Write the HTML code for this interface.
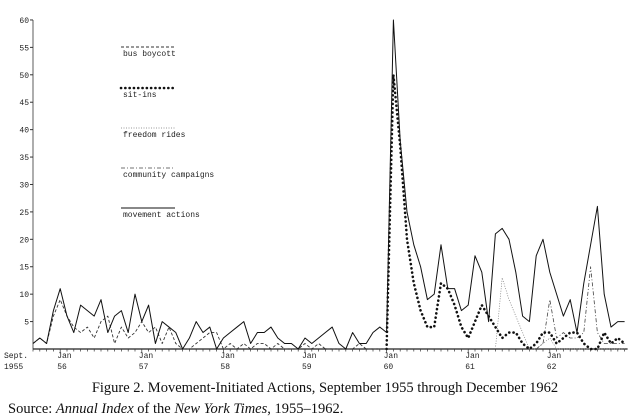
<!DOCTYPE html>
<html><head><meta charset="utf-8"><style>
html,body{margin:0;padding:0;background:#fff;width:640px;height:419px;overflow:hidden}
svg{display:block}
.ax{font-family:"Liberation Mono",monospace;font-size:8px;fill:#222}
.cap{font-family:"Liberation Serif",serif;font-size:14.5px;fill:#111}
</style></head><body>
<svg id="chart" width="640" height="419">
<g id="axes"></g>
<g id="series"></g>
<g id="legend"></g>
<text class="cap" x="325" y="392" text-anchor="middle">Figure 2. Movement-Initiated Actions, September 1955 through December 1962</text>
<text class="cap" x="8" y="413">Source: <tspan font-style="italic">Annual Index</tspan> of the <tspan font-style="italic">New York Times</tspan>, 1955–1962.</text>
</svg>
<script>
// Months Sept 1955 .. Dec 1962 (88 months); null = series not active
const yTicks = [5,10,15,20,25,30,35,40,45,50,55,60];
const xTickLabels = [["Sept.","1955",0],["Jan","56",4],["Jan","57",16],["Jan","58",28],["Jan","59",40],["Jan","60",52],["Jan","61",64],["Jan","62",76]];
const movementActions = [1,2,1,7,11,6,3,8,7,6,9,3,6,7,3,10,5,8,1,5,4,3,0,2,5,3,4,0,2,3,4,5,1,3,3,4,2,1,1,0,2,1,2,3,4,1,0,3,1,1,3,4,3,60,38,25,19,15,9,10,19,11,11,7,8,17,14,5,21,22,20,14,6,5,17,20,14,10,6,9,3,12,19,26,10,4,5,5];
const busBoycott = [1,2,1,6,9,6,4,3,4,2,5,6,1,4,2,3,5,3,4,1,4,1,0,0,1,2,3,3,0,1,0,1,0,1,1,0,1,0,0,0,1,0,1,0,0,0,0,0,1,0,0,0,0,null,null,null,null,null,null,null,null,null,null,null,null,null,null,null,null,null,null,null,null,null,null,null,null,null,null,null,null,null,null,null,null,null,null,null];
const sitIns = [null,null,null,null,null,null,null,null,null,null,null,null,null,null,null,null,null,null,null,null,null,null,null,null,null,null,null,null,null,null,null,null,null,null,null,null,null,null,null,null,null,null,null,null,null,null,null,null,null,null,null,null,0,50,37,20,12,7,4,4,12,11,8,4,2,5,8,6,4,2,3,3,1,0,1,3,3,1,2,3,3,1,0,0,3,1,2,1];
const freedomRides = [null,null,null,null,null,null,null,null,null,null,null,null,null,null,null,null,null,null,null,null,null,null,null,null,null,null,null,null,null,null,null,null,null,null,null,null,null,null,null,null,null,null,null,null,null,null,null,null,null,null,null,null,null,null,null,null,null,null,null,null,null,null,null,null,null,null,null,null,0,13,9,6,3,0,0,1,2,0,0,0,0,0,0,0,0,0,0,0];
const community = [null,null,null,null,null,null,null,null,null,null,null,null,null,null,null,null,null,null,null,null,null,null,null,null,null,null,null,null,null,null,null,null,null,null,null,null,null,null,null,null,null,null,null,null,null,null,null,null,null,null,null,null,null,null,null,null,null,null,null,null,null,null,null,null,null,null,null,null,null,null,null,null,null,null,0,1,9,2,3,2,2,3,15,3,1,1,1,1];

const X0=33, STEP=6.8, Y0=349, YPX=27.42/5;
const sx = i => X0 + i*STEP;
const sy = v => Y0 - v*YPX;
const NS="http://www.w3.org/2000/svg";
function mk(tag, parent){const e=document.createElementNS(NS,tag);parent.appendChild(e);return e;}

const axes=document.getElementById('axes');
let l=mk('line',axes);


l.setAttribute('x1',X0);l.setAttribute('x2',X0);l.setAttribute('y1',sy(60));l.setAttribute('y2',Y0);l.setAttribute('stroke','#333');l.setAttribute('stroke-width','0.8');
l=mk('line',axes);


l.setAttribute('x1',X0);l.setAttribute('x2',sx(87)+3);l.setAttribute('y1',Y0);l.setAttribute('y2',Y0);l.setAttribute('stroke','#222');l.setAttribute('stroke-width','1.2');
yTicks.forEach(v=>{
  const t=mk('line',axes);
  
  
  t.setAttribute('x1',X0-3);t.setAttribute('x2',X0);t.setAttribute('y1',sy(v));t.setAttribute('y2',sy(v));t.setAttribute('stroke','#333');
  const tx=mk('text',axes);
  
  
  tx.setAttribute('class','ax');tx.setAttribute('x',X0-4);tx.setAttribute('y',sy(v)+3);tx.setAttribute('text-anchor','end');tx.textContent=v;
});
for(let i=0;i<88;i++){
  const t=mk('line',axes);
  
  
  t.setAttribute('x1',sx(i));t.setAttribute('x2',sx(i));t.setAttribute('y1',Y0);t.setAttribute('y2',Y0+((i-4)%12===0?4:2.5));t.setAttribute('stroke','#333');t.setAttribute('stroke-width','0.7');
}
xTickLabels.forEach(([a,b,i])=>{
  [[a,358],[b,369]].forEach(([s,y])=>{
    const tx=mk('text',axes);
    
    
    tx.setAttribute('class','ax');tx.setAttribute('x',i===0?4:sx(i)-3);tx.setAttribute('y',y);tx.textContent=s;
  });
});

const styles={
  bus:{stroke:'#333',w:0.9,dash:'3,2',cap:'butt'},
  sit:{stroke:'#111',w:2.6,dash:'0.1,4.2',cap:'round'},
  free:{stroke:'#777',w:0.7,dash:'1,1.5',cap:'butt'},
  comm:{stroke:'#444',w:0.8,dash:'4,2,1,2',cap:'butt'},
  move:{stroke:'#111',w:1,dash:'',cap:'butt'}
};
const ser=document.getElementById('series');
function drawLine(data,st,name){
  const pts=[];
  data.forEach((v,i)=>{if(v!==null)pts.push(sx(i)+','+sy(v));});
  const p=mk('polyline',ser);
  
  
  p.setAttribute('points',pts.join(' '));
  p.setAttribute('fill','none');p.setAttribute('stroke',st.stroke);p.setAttribute('stroke-width',st.w);
  if(st.dash)p.setAttribute('stroke-dasharray',st.dash);
  p.setAttribute('stroke-linecap',st.cap);p.setAttribute('stroke-linejoin','round');
}
drawLine(busBoycott,styles.bus,'bus-boycott-line');
drawLine(freedomRides,styles.free,'freedom-rides-line');
drawLine(community,styles.comm,'community-campaigns-line');
drawLine(movementActions,styles.move,'movement-actions-line');
drawLine(sitIns,styles.sit,'sit-ins-line');

const leg=document.getElementById('legend');
[['bus boycott',styles.bus,47],['sit-ins',styles.sit,88],['freedom rides',styles.free,128],['community campaigns',styles.comm,168],['movement actions',styles.move,208]].forEach(([label,st,y])=>{
  const g=mk('g',leg);
  
  
  const ln=mk('line',g);
  
  
  ln.setAttribute('x1',121);ln.setAttribute('x2',175);ln.setAttribute('y1',y);ln.setAttribute('y2',y);
  ln.setAttribute('stroke',st.stroke);ln.setAttribute('stroke-width',st.w);ln.setAttribute('stroke-linecap',st.cap);
  if(st.dash)ln.setAttribute('stroke-dasharray',st.dash);
  const tx=mk('text',g);
  
  
  tx.setAttribute('class','ax');tx.setAttribute('x',123);tx.setAttribute('y',y+9);tx.textContent=label;
});
</script>
</body></html>
